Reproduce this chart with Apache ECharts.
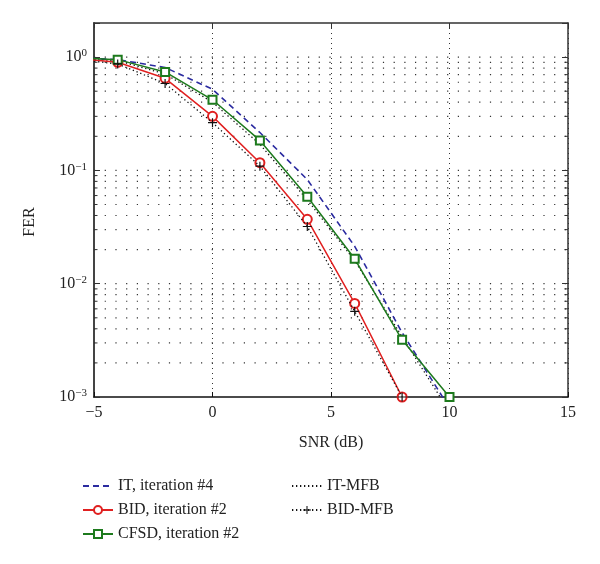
<!DOCTYPE html>
<html>
<head>
<meta charset="utf-8">
<script src="https://cdn.jsdelivr.net/npm/echarts@6/dist/echarts.min.js"></script>
<style>html,body{margin:0;padding:0;background:#fff}#c{width:600px;height:564px}</style>
</head>
<body>
<div id="c"></div>
<script>
// ---- data ----
var snr = [-6, -4, -2, 0, 2, 4, 6, 8, 10];
var itIter4 =   [0.99, 0.95, 0.81, 0.52, 0.216, 0.083, 0.0214, 0.0037, 0.0008];
var bidIter2 =  [0.98, 0.90, 0.65, 0.30, 0.117, 0.037, 0.0067, 0.001];
var cfsdIter2 = [0.99, 0.95, 0.74, 0.42, 0.184, 0.0585, 0.0166, 0.0032, 0.001];
var itMfb =     [0.98, 0.93, 0.71, 0.40, 0.170, 0.055, 0.0160, 0.0034, 0.00074];
var bidMfb =    [0.97, 0.87, 0.585, 0.264, 0.109, 0.032, 0.0057, 0.001];
var seriesNames = ['IT, iteration #4', 'BID, iteration #2', 'CFSD, iteration #2', 'IT-MFB', 'BID-MFB'];
var xTicks = [-5, 0, 5, 10, 15];
var yDecades = [0.001, 0.01, 0.1, 1];
var yGridValues = [0.002,0.003,0.004,0.005,0.006,0.007,0.008,0.009,0.01,
                   0.02,0.03,0.04,0.05,0.06,0.07,0.08,0.09,0.1,
                   0.2,0.3,0.4,0.5,0.6,0.7,0.8,0.9,1];

function pairs(xs, ys){ return ys.map(function(v,i){ return [xs[i], v]; }); }

var FONT = '"Liberation Serif","DejaVu Serif",serif';
var chart = echarts.init(document.getElementById('c'), null, {renderer:'canvas'});
var isMajor = function(v){ return yDecades.some(function(d){ return Math.abs(d - v) < d*1e-6; }); };

var plus = 'path://M4.35,0 L5.65,0 L5.65,4.35 L10,4.35 L10,5.65 L5.65,5.65 L5.65,10 L4.35,10 L4.35,5.65 L0,5.65 L0,4.35 L4.35,4.35 Z';
var hidden = {color: 'rgba(0,0,0,0)', borderColor: 'rgba(0,0,0,0)', borderWidth: 0, opacity: 0};
var legendText = {fontFamily: FONT, fontSize: 16, color: '#222', lineHeight: 12};

var option = {
  animation: false,
  backgroundColor: '#fff',
  grid: {left: 94, right: 32, top: 23, bottom: 167, containLabel: false},
  xAxis: [{
    type: 'value', min: xTicks[0], max: xTicks[xTicks.length-1], interval: 5,
    name: 'SNR (dB)', nameLocation: 'middle', nameGap: 38,
    nameTextStyle: {fontFamily: FONT, fontSize: 16, color: '#222'},
    axisLine: {show: true, onZero: false, lineStyle: {color: '#111', width: 1.5}},
    axisTick: {show: true, inside: true, length: 5, lineStyle: {color: '#111'}},
    axisLabel: {fontFamily: FONT, fontSize: 16, color: '#222', margin: 8,
      formatter: function(v){ return v < 0 ? '\u2212' + Math.abs(v) : String(v); }},
    splitLine: {show: true, lineStyle: {color: '#333', type: [1, 4], width: 1}}
  }, {
    type: 'value', position: 'top', min: xTicks[0], max: xTicks[xTicks.length-1], interval: 5,
    axisLine: {show: true, onZero: false, lineStyle: {color: '#333', width: 1.5}},
    axisTick: {show: true, inside: true, length: 5, lineStyle: {color: '#333'}},
    axisLabel: {show: false}, splitLine: {show: false}
  }],
  yAxis: [{
    type: 'log', logBase: 10, min: 0.001, max: 2,
    name: 'FER', nameLocation: 'middle', nameGap: 56, nameRotate: 90,
    nameTextStyle: {fontFamily: FONT, fontSize: 16, color: '#222', padding: [0, 24, 0, 0]},
    axisLine: {show: true, onZero: false, lineStyle: {color: '#444', width: 2}},
    axisTick: {show: true, inside: true, length: 6, lineStyle: {color: '#333'}},
    axisLabel: {margin: 7, color: '#222',
      formatter: function(v){
        if (!isMajor(v)) return '';
        var e = Math.round(Math.log10(v));
        return '{b|10}{s|' + (e < 0 ? '\u2212' + Math.abs(e) : e) + '}';
      },
      rich: {
        b: {fontFamily: FONT, fontSize: 16, color: '#222', lineHeight: 18},
        s: {fontFamily: FONT, fontSize: 11, color: '#222', lineHeight: 10, verticalAlign: 'top'}
      }
    },
    splitLine: {show: false}
  }, {
    type: 'log', logBase: 10, min: 0.001, max: 2, position: 'right',
    axisLine: {show: true, onZero: false, lineStyle: {color: '#333', width: 1.5}},
    axisTick: {show: true, inside: true, length: 6, lineStyle: {color: '#333'}},
    axisLabel: {show: false}, splitLine: {show: false}
  }],
  legend: [{
    data: [{name: seriesNames[0], itemStyle: hidden}, {name: seriesNames[1]}, {name: seriesNames[2]}],
    orient: 'vertical', left: 82, top: 478, padding: 0,
    itemWidth: 30, itemHeight: 10, itemGap: 8, textStyle: legendText
  }, {
    data: [{name: seriesNames[3], itemStyle: hidden}, {name: seriesNames[4]}],
    orient: 'vertical', left: 291, top: 478, padding: 0,
    itemWidth: 30, itemHeight: 10, itemGap: 8, textStyle: legendText
  }],
  series: [{
    type: 'custom', name: 'grid', silent: true, z: 1,
    xAxisIndex: 0, yAxisIndex: 0,
    data: yGridValues.map(function(v){ return [0, v]; }),
    renderItem: function(params, api){
      var cs = params.coordSys;
      var y = api.coord([0, api.value(1)])[1];
      var major = isMajor(api.value(1));
      var tl = major ? 0 : 3.5;
      var children = [{
        type: 'line', shape: {x1: cs.x, y1: y, x2: cs.x + cs.width, y2: y},
        style: {stroke: '#333', lineWidth: 1.2, lineDash: [1.2, 9.5]}
      }];
      if (tl > 0) {
        children.push({type: 'line', shape: {x1: cs.x, y1: y, x2: cs.x + tl, y2: y}, style: {stroke: '#333', lineWidth: 1}});
        children.push({type: 'line', shape: {x1: cs.x + cs.width - tl, y1: y, x2: cs.x + cs.width, y2: y}, style: {stroke: '#333', lineWidth: 1}});
      }
      return {type: 'group', children: children};
    }
  }, {
    name: seriesNames[0], type: 'line', data: pairs(snr, itIter4), z: 3,
    symbol: 'circle', showSymbol: false, color: '#2b2ba0',
    lineStyle: {color: '#2b2ba0', width: 1.6, type: [6, 4]}
  }, {
    name: seriesNames[1], type: 'line', data: pairs(snr, bidIter2), z: 4,
    symbol: 'emptyCircle', symbolSize: 9, color: '#e02020',
    itemStyle: {color: '#e02020', borderWidth: 1.3},
    lineStyle: {color: '#e02020', width: 1.5}
  }, {
    name: seriesNames[2], type: 'line', data: pairs(snr, cfsdIter2), z: 4,
    symbol: 'emptyRect', symbolSize: 8, color: '#1d7a1d',
    itemStyle: {color: '#1d7a1d', borderWidth: 1.3},
    lineStyle: {color: '#1d7a1d', width: 1.5}
  }, {
    name: seriesNames[3], type: 'line', data: pairs(snr, itMfb), z: 3,
    symbol: 'circle', showSymbol: false, color: '#111',
    lineStyle: {color: '#111', width: 1.3, type: [1.3, 2.7]}
  }, {
    name: seriesNames[4], type: 'line', data: pairs(snr, bidMfb), z: 5,
    symbol: plus, symbolSize: 9, color: '#111',
    itemStyle: {color: '#111'},
    lineStyle: {color: '#111', width: 1.3, type: [1.3, 2.7]}
  }]
};
chart.setOption(option);
</script>
</body>
</html>
